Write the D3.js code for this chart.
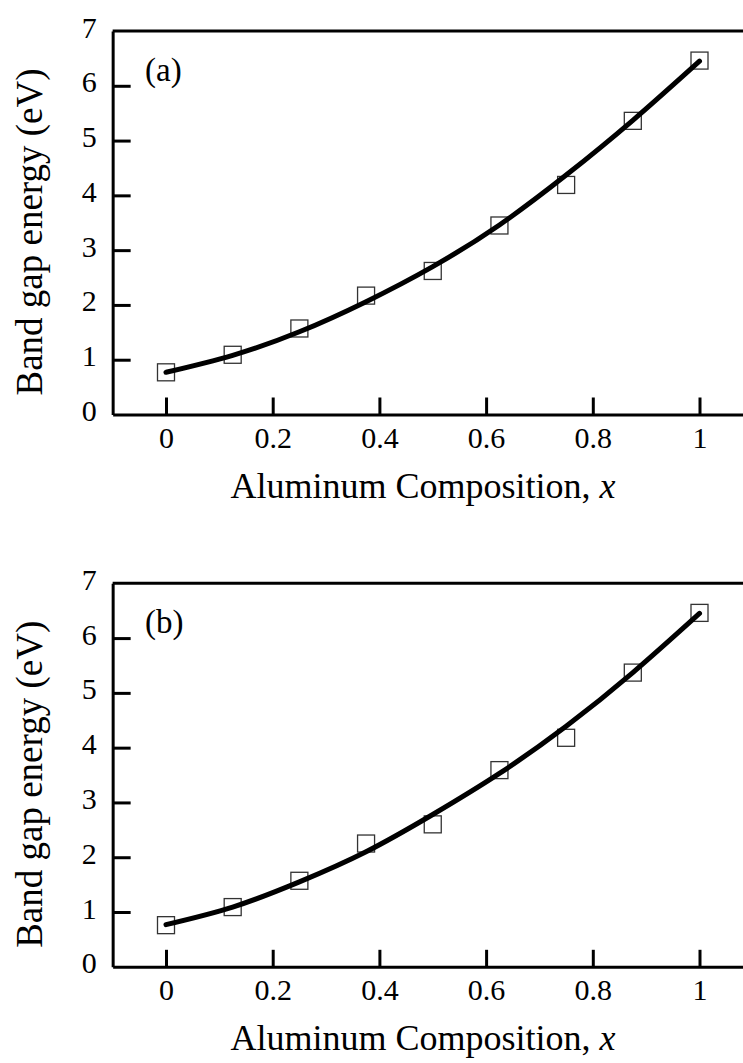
<!DOCTYPE html>
<html>
<head>
<meta charset="utf-8">
<script src="https://cdn.jsdelivr.net/npm/d3@7"></script>
<style>
  html, body { margin: 0; padding: 0; background: #fff; }
  svg { display: block; }
  text { font-family: "Liberation Serif", "Times New Roman", Times, serif; fill: #000; }
</style>
</head>
<body>
<svg id="chart" width="743" height="1063"></svg>
<script>
// ---- data ----
const composition = [0, 0.125, 0.25, 0.375, 0.5, 0.625, 0.75, 0.875, 1];
const gapA = [0.77, 1.09, 1.57, 2.17, 2.62, 3.45, 4.19, 5.36, 6.46];
const fitA = [0.77, 1.08, 1.51, 2.06, 2.70, 3.46, 4.37, 5.37, 6.45];
const gapB = [0.76, 1.09, 1.57, 2.25, 2.60, 3.59, 4.18, 5.37, 6.46];
const fitB = [0.77, 1.09, 1.55, 2.10, 2.78, 3.53, 4.39, 5.37, 6.45];
const xTicks = [0, 0.2, 0.4, 0.6, 0.8, 1];
const xTickLabels = ["0", "0.2", "0.4", "0.6", "0.8", "1"];
const yTicks = [0, 1, 2, 3, 4, 5, 6, 7];
const panelLabels = ["(a)", "(b)"];
const yTitle = "Band gap energy (eV)";
const xTitle = "Aluminum Composition, ";
const xTitleVar = "x";

const svg = d3.select("#chart");
svg.append("rect").attr("width", 743).attr("height", 1063).attr("fill", "#fff");

const left = 112.65, right = 752.85;
const panels = [
  { top: 31, bottom: 414.5, pts: gapA, fit: fitA, label: panelLabels[0] },
  { top: 583.3, bottom: 966.8, pts: gapB, fit: fitB, label: panelLabels[1] }
];

const x = d3.scaleLinear().domain([-0.1, 1.1]).range([left, right]);

panels.forEach(p => {
  const y = d3.scaleLinear().domain([0, 7]).range([p.bottom, p.top]);
  const g = svg.append("g");

  // frame top line
  g.append("line")
    .attr("x1", left).attr("x2", right)
    .attr("y1", y(7)).attr("y2", y(7))
    .attr("stroke", "#000").attr("stroke-width", 3);

  // x axis
  const xa = g.append("g")
    .attr("transform", `translate(0,${p.bottom})`)
    .call(d3.axisBottom(x).tickValues(xTicks)
      .tickFormat((d, i) => xTickLabels[i])
      .tickSizeInner(-17).tickSizeOuter(0).tickPadding(0));
  xa.select(".domain").attr("stroke", "#000").attr("stroke-width", 3);
  xa.selectAll(".tick line").attr("stroke", "#000").attr("stroke-width", 3);
  xa.selectAll(".tick text")
    .attr("y", 33).attr("dy", 0)
    .attr("font-size", 30);

  // y axis
  const ya = g.append("g")
    .attr("transform", `translate(${left},0)`)
    .call(d3.axisLeft(y).tickValues(yTicks)
      .tickFormat(d3.format("d"))
      .tickSizeInner(-18).tickSizeOuter(0).tickPadding(0));
  ya.select(".domain").attr("stroke", "#000").attr("stroke-width", 3);
  ya.selectAll(".tick line").attr("stroke", "#000").attr("stroke-width", 3)
    .filter(d => d === 0 || d === 7).remove();
  ya.selectAll(".tick text")
    .attr("x", -16).attr("dy", "0.2em")
    .attr("font-size", 30);

  // markers
  const side = 17;
  g.selectAll("rect.pt").data(composition).join("rect")
    .attr("class", "pt")
    .attr("x", d => x(d) - side / 2)
    .attr("y", (d, i) => y(p.pts[i]) - side / 2)
    .attr("width", side).attr("height", side)
    .attr("fill", "none").attr("stroke", "#333").attr("stroke-width", 1.3);

  // fitted curve
  const line = d3.line()
    .x((d, i) => x(composition[i]))
    .y(d => y(d))
    .curve(d3.curveNatural);
  g.append("path").datum(p.fit)
    .attr("d", line)
    .attr("fill", "none").attr("stroke", "#000")
    .attr("stroke-width", 5).attr("stroke-linecap", "round");

  // panel label
  g.append("text")
    .attr("x", 145).attr("y", p.top + 50)
    .attr("font-size", 33)
    .text(p.label);

  // y title
  g.append("text")
    .attr("transform", `translate(42,${p.top + 201}) rotate(-90)`)
    .attr("text-anchor", "middle")
    .attr("font-size", 37)
    .text(yTitle);

  // x title
  const xt = g.append("text")
    .attr("x", 423).attr("y", p.bottom + 83)
    .attr("text-anchor", "middle")
    .attr("font-size", 36)
    .text(xTitle);
  xt.append("tspan").attr("font-style", "italic").text(xTitleVar);
});
</script>
</body>
</html>
